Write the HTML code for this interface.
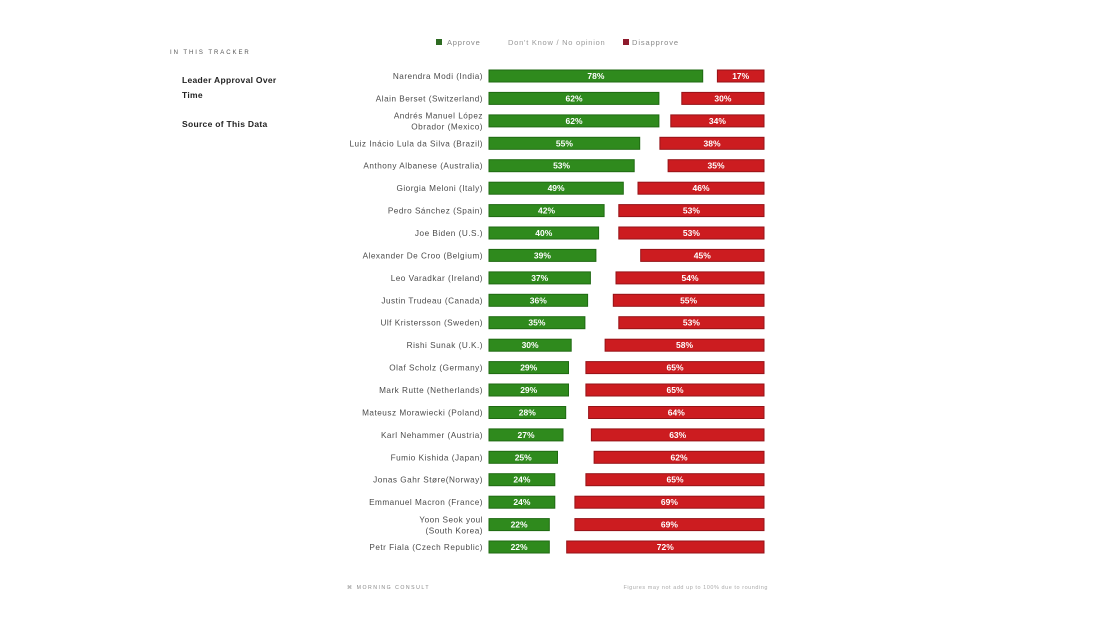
<!DOCTYPE html>
<html><head><meta charset="utf-8"><style>
html,body{margin:0;padding:0;background:#fff;}
svg{display:block;}
text{font-family:"Liberation Sans",sans-serif;}
.lb{font-size:8.2px;fill:#4a4a4a;text-anchor:end;letter-spacing:0.5px;}
.pc{font-size:8.5px;fill:#fff;font-weight:bold;text-anchor:middle;}
.g{fill:#2f8a1d;stroke:#1f6a12;stroke-width:1;}
.r{fill:#cc1c20;stroke:#961217;stroke-width:1;}
</style></head><body>
<svg width="1111" height="620" viewBox="0 0 1111 620" xmlns="http://www.w3.org/2000/svg">
<rect width="1111" height="620" fill="#fff"/>
<!-- sidebar -->
<text x="170" y="54" font-size="6" fill="#555" letter-spacing="1.95">IN THIS TRACKER</text>
<text x="182" y="83" font-size="8.5" font-weight="bold" fill="#222" letter-spacing="0.3">Leader Approval Over</text>
<text x="182" y="98" font-size="8.5" font-weight="bold" fill="#222" letter-spacing="0.3">Time</text>
<text x="182" y="127" font-size="8.5" font-weight="bold" fill="#222" letter-spacing="0.3">Source of This Data</text>
<!-- legend -->
<rect x="436" y="39" width="6" height="6" fill="#2e6b22"/>
<text x="447" y="45" font-size="7.5" fill="#888" letter-spacing="0.8">Approve</text>
<text x="508" y="45" font-size="7.5" fill="#999" letter-spacing="0.75">Don't Know / No opinion</text>
<rect x="623" y="39" width="6" height="6" fill="#8e1a2c"/>
<text x="632" y="45" font-size="7.5" fill="#888" letter-spacing="0.9">Disapprove</text>

<!-- rows -->
<g>
<text class="lb" x="483" y="79">Narendra Modi (India)</text>
<rect class="g" x="489" y="70" width="213.7" height="12"/><text class="pc" x="595.9" y="79">78%</text>
<rect class="r" x="717.4" y="70" width="46.6" height="12"/><text class="pc" x="740.7" y="79">17%</text>

<text class="lb" x="483" y="101.4">Alain Berset (Switzerland)</text>
<rect class="g" x="489" y="92.4" width="169.9" height="12"/><text class="pc" x="574" y="101.4">62%</text>
<rect class="r" x="681.8" y="92.4" width="82.2" height="12"/><text class="pc" x="722.9" y="101.4">30%</text>

<text class="lb" x="483" y="118.5">Andrés Manuel López</text>
<text class="lb" x="483" y="129.5">Obrador (Mexico)</text>
<rect class="g" x="489" y="114.9" width="169.9" height="12"/><text class="pc" x="574" y="123.9">62%</text>
<rect class="r" x="670.8" y="114.9" width="93.2" height="12"/><text class="pc" x="717.4" y="123.9">34%</text>

<text class="lb" x="483" y="146.3">Luiz Inácio Lula da Silva (Brazil)</text>
<rect class="g" x="489" y="137.3" width="150.7" height="12"/><text class="pc" x="564.4" y="146.3">55%</text>
<rect class="r" x="659.9" y="137.3" width="104.1" height="12"/><text class="pc" x="712" y="146.3">38%</text>

<text class="lb" x="483" y="168.7">Anthony Albanese (Australia)</text>
<rect class="g" x="489" y="159.7" width="145.2" height="12"/><text class="pc" x="561.6" y="168.7">53%</text>
<rect class="r" x="668.1" y="159.7" width="95.9" height="12"/><text class="pc" x="716" y="168.7">35%</text>

<text class="lb" x="483" y="191.2">Giorgia Meloni (Italy)</text>
<rect class="g" x="489" y="182.2" width="134.3" height="12"/><text class="pc" x="556.1" y="191.2">49%</text>
<rect class="r" x="638" y="182.2" width="126" height="12"/><text class="pc" x="701" y="191.2">46%</text>

<text class="lb" x="483" y="213.6">Pedro Sánchez (Spain)</text>
<rect class="g" x="489" y="204.6" width="115.1" height="12"/><text class="pc" x="546.5" y="213.6">42%</text>
<rect class="r" x="618.8" y="204.6" width="145.2" height="12"/><text class="pc" x="691.4" y="213.6">53%</text>

<text class="lb" x="483" y="236">Joe Biden (U.S.)</text>
<rect class="g" x="489" y="227" width="109.6" height="12"/><text class="pc" x="543.8" y="236">40%</text>
<rect class="r" x="618.8" y="227" width="145.2" height="12"/><text class="pc" x="691.4" y="236">53%</text>

<text class="lb" x="483" y="258.4">Alexander De Croo (Belgium)</text>
<rect class="g" x="489" y="249.4" width="106.9" height="12"/><text class="pc" x="542.4" y="258.4">39%</text>
<rect class="r" x="640.7" y="249.4" width="123.3" height="12"/><text class="pc" x="702.3" y="258.4">45%</text>

<text class="lb" x="483" y="280.9">Leo Varadkar (Ireland)</text>
<rect class="g" x="489" y="271.9" width="101.4" height="12"/><text class="pc" x="539.7" y="280.9">37%</text>
<rect class="r" x="616" y="271.9" width="148" height="12"/><text class="pc" x="690" y="280.9">54%</text>

<text class="lb" x="483" y="303.3">Justin Trudeau (Canada)</text>
<rect class="g" x="489" y="294.3" width="98.6" height="12"/><text class="pc" x="538.3" y="303.3">36%</text>
<rect class="r" x="613.3" y="294.3" width="150.7" height="12"/><text class="pc" x="688.6" y="303.3">55%</text>

<text class="lb" x="483" y="325.7">Ulf Kristersson (Sweden)</text>
<rect class="g" x="489" y="316.7" width="95.9" height="12"/><text class="pc" x="536.9" y="325.7">35%</text>
<rect class="r" x="618.8" y="316.7" width="145.2" height="12"/><text class="pc" x="691.4" y="325.7">53%</text>

<text class="lb" x="483" y="348.2">Rishi Sunak (U.K.)</text>
<rect class="g" x="489" y="339.2" width="82.2" height="12"/><text class="pc" x="530.1" y="348.2">30%</text>
<rect class="r" x="605.1" y="339.2" width="158.9" height="12"/><text class="pc" x="684.5" y="348.2">58%</text>

<text class="lb" x="483" y="370.6">Olaf Scholz (Germany)</text>
<rect class="g" x="489" y="361.6" width="79.5" height="12"/><text class="pc" x="528.7" y="370.6">29%</text>
<rect class="r" x="585.9" y="361.6" width="178.1" height="12"/><text class="pc" x="675" y="370.6">65%</text>

<text class="lb" x="483" y="393">Mark Rutte (Netherlands)</text>
<rect class="g" x="489" y="384" width="79.5" height="12"/><text class="pc" x="528.7" y="393">29%</text>
<rect class="r" x="585.9" y="384" width="178.1" height="12"/><text class="pc" x="675" y="393">65%</text>

<text class="lb" x="483" y="415.5">Mateusz Morawiecki (Poland)</text>
<rect class="g" x="489" y="406.5" width="76.7" height="12"/><text class="pc" x="527.3" y="415.5">28%</text>
<rect class="r" x="588.6" y="406.5" width="175.4" height="12"/><text class="pc" x="676.3" y="415.5">64%</text>

<text class="lb" x="483" y="437.9">Karl Nehammer (Austria)</text>
<rect class="g" x="489" y="428.9" width="74" height="12"/><text class="pc" x="526" y="437.9">27%</text>
<rect class="r" x="591.4" y="428.9" width="172.6" height="12"/><text class="pc" x="677.7" y="437.9">63%</text>

<text class="lb" x="483" y="460.3">Fumio Kishida (Japan)</text>
<rect class="g" x="489" y="451.3" width="68.5" height="12"/><text class="pc" x="523.2" y="460.3">25%</text>
<rect class="r" x="594.1" y="451.3" width="169.9" height="12"/><text class="pc" x="679" y="460.3">62%</text>

<text class="lb" x="483" y="482.7">Jonas Gahr Støre(Norway)</text>
<rect class="g" x="489" y="473.7" width="65.8" height="12"/><text class="pc" x="521.9" y="482.7">24%</text>
<rect class="r" x="585.9" y="473.7" width="178.1" height="12"/><text class="pc" x="675" y="482.7">65%</text>

<text class="lb" x="483" y="505.2">Emmanuel Macron (France)</text>
<rect class="g" x="489" y="496.2" width="65.8" height="12"/><text class="pc" x="521.9" y="505.2">24%</text>
<rect class="r" x="574.9" y="496.2" width="189.1" height="12"/><text class="pc" x="669.4" y="505.2">69%</text>

<text class="lb" x="483" y="522.5">Yoon Seok youl</text>
<text class="lb" x="483" y="533.5">(South Korea)</text>
<rect class="g" x="489" y="518.6" width="60.3" height="12"/><text class="pc" x="519.1" y="527.6">22%</text>
<rect class="r" x="574.9" y="518.6" width="189.1" height="12"/><text class="pc" x="669.4" y="527.6">69%</text>

<text class="lb" x="483" y="550">Petr Fiala (Czech Republic)</text>
<rect class="g" x="489" y="541" width="60.3" height="12"/><text class="pc" x="519.1" y="550">22%</text>
<rect class="r" x="566.7" y="541" width="197.3" height="12"/><text class="pc" x="665.3" y="550">72%</text>
</g>

<!-- footer -->
<text x="347" y="589" font-size="5.2" fill="#888" letter-spacing="1.5">⌘ MORNING CONSULT</text>
<text x="768" y="589" font-size="5.5" fill="#aaa" text-anchor="end" letter-spacing="0.55">Figures may not add up to 100% due to rounding</text>
</svg>
</body></html>
